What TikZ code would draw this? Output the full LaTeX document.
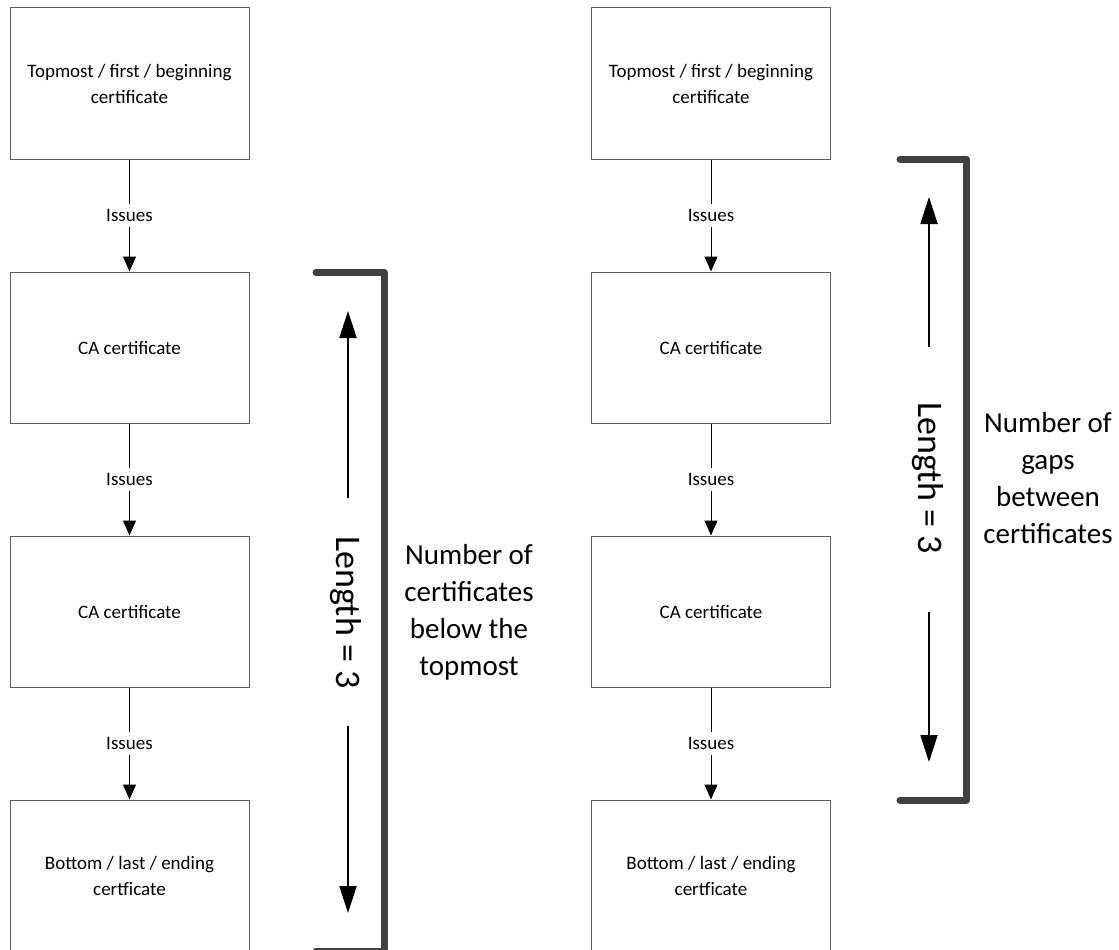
\documentclass[tikz,border=0pt]{standalone}
\usepackage{fontspec}
\setmainfont{Carlito}
\usetikzlibrary{arrows.meta}
\definecolor{bracketgray}{HTML}{404040}
\definecolor{boxgray}{HTML}{5F5F5F}
\begin{document}
\begin{tikzpicture}[x=1pt,y=-1pt,
  certbox/.style={draw=boxgray, line width=1pt, minimum width=239pt, minimum height=151pt,
    align=center, font=\fontsize{19}{26}\selectfont, inner sep=0pt},
  issues/.style={draw=black, line width=1pt, -{Triangle[width=13pt,length=15pt]}},
  issuelabel/.style={fill=white, font=\fontsize{19}{26}\selectfont, inner xsep=2pt, inner ysep=5pt},
  bracket/.style={draw=bracketgray, line width=7pt, line cap=round, line join=round},
  lenarrow/.style={draw=black, line width=1.8pt, -{Triangle[width=17pt,length=27pt]}},
  lentext/.style={rotate=-90, font=\fontsize{36}{42}\selectfont, inner sep=0pt},
  note/.style={align=center, font=\fontsize{29}{37}\selectfont, inner sep=0pt}]

\useasboundingbox (0,0) rectangle (1119,950);

% left chain
\node[certbox] (l1) at (129.5,83.5)  {Topmost / first / beginning\\certificate};
\node[certbox] (l2) at (129.5,347.5) {CA certificate};
\node[certbox] (l3) at (129.5,611.5) {CA certificate};
\node[certbox] (l4) at (129.5,875.5) {Bottom / last / ending\\certficate};
\draw[issues] (l1) -- node[issuelabel] {Issues} (l2);
\draw[issues] (l2) -- node[issuelabel] {Issues} (l3);
\draw[issues] (l3) -- node[issuelabel] {Issues} (l4);

% right chain
\node[certbox] (r1) at (711,83.5)  {Topmost / first / beginning\\certificate};
\node[certbox] (r2) at (711,347.5) {CA certificate};
\node[certbox] (r3) at (711,611.5) {CA certificate};
\node[certbox] (r4) at (711,875.5) {Bottom / last / ending\\certficate};
\draw[issues] (r1) -- node[issuelabel] {Issues} (r2);
\draw[issues] (r2) -- node[issuelabel] {Issues} (r3);
\draw[issues] (r3) -- node[issuelabel] {Issues} (r4);

% left bracket: certificates below the topmost
\coordinate (bl1) at (316,272.5);
\coordinate (bl2) at (384,272.5);
\coordinate (bl3) at (384,951);
\coordinate (bl4) at (316,951);
\draw[bracket] (bl1) -- (bl2) -- (bl3) -- (bl4);
\node[lentext] (lenl) at (346,612.5) {Length = 3};
\coordinate (lu0) at (348,498);
\coordinate (lu1) at (348,311);
\coordinate (ld0) at (348,726);
\coordinate (ld1) at (348,913);
\draw[lenarrow] (lu0) -- (lu1);
\draw[lenarrow] (ld0) -- (ld1);
\node[note] (notel) at (469,612) {Number of\\certificates\\below the\\topmost};

% right bracket: gaps between certificates
\coordinate (br1) at (900,159);
\coordinate (br2) at (966.5,159);
\coordinate (br3) at (966.5,800);
\coordinate (br4) at (900,800);
\draw[bracket] (br1) -- (br2) -- (br3) -- (br4);
\node[lentext] (lenr) at (928,478) {Length = 3};
\coordinate (ru0) at (929,347);
\coordinate (ru1) at (929,197);
\coordinate (rd0) at (929,612);
\coordinate (rd1) at (929,762);
\draw[lenarrow] (ru0) -- (ru1);
\draw[lenarrow] (rd0) -- (rd1);
\node[note] (noter) at (1048,478) {Number of\\gaps\\between\\certificates};
\end{tikzpicture}
\end{document}
